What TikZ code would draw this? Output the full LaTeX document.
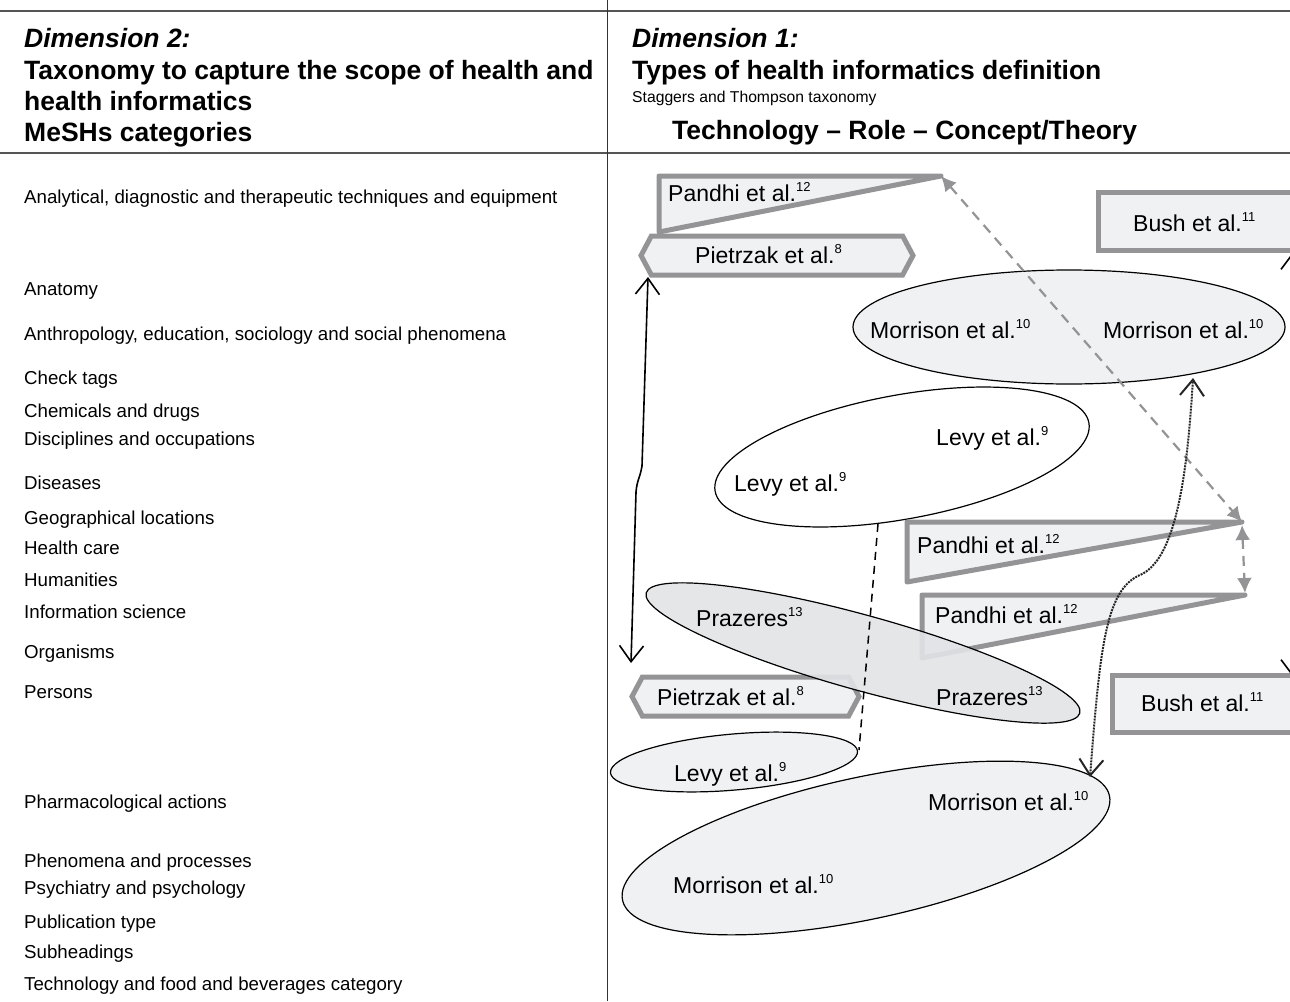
\documentclass[tikz,border=0pt]{standalone}
\usepackage{fontspec}
\setmainfont{Liberation Sans}
\usetikzlibrary{arrows.meta,positioning,shapes.geometric,shapes.symbols}
\definecolor{boxgray}{RGB}{148,148,150}
\definecolor{lightfill}{RGB}{240,241,243}
\definecolor{prazfill}{RGB}{226,227,230}
\definecolor{rulegray}{RGB}{85,85,85}
\newcommand{\refnum}[1]{\raisebox{0.42em}{\fontsize{13}{14}\selectfont #1}}
\tikzset{
  meshitem/.style={anchor=mid west, inner sep=0pt, yshift=-5pt, font=\fontsize{18.7}{22}\selectfont},
  headline/.style={anchor=mid west, inner sep=0pt, yshift=-7pt, font=\bfseries\fontsize{26.5}{30}\selectfont},
  dimline/.style={headline, font=\bfseries\itshape\fontsize{26.5}{30}\selectfont},
  authtext/.style={anchor=mid west, inner sep=0pt, yshift=-6pt, font=\fontsize{23}{26}\selectfont},
  hexbox/.style={signal, signal to=west and east, signal pointer angle=124, draw=boxgray, line width=5pt, fill=lightfill, inner sep=0pt},
  rectbox/.style={rectangle, draw=boxgray, line width=5pt, fill=lightfill, inner sep=0pt},
  wedge/.style={draw=boxgray, line width=5pt, fill=lightfill, line join=round},
  oval/.style={ellipse, draw=black, line width=1.2pt, fill=lightfill, inner sep=0pt},
  barbs/.style={line width=1.6pt, {Straight Barb[length=16pt,width=24pt]}-{Straight Barb[length=16pt,width=24pt]}},
  grayarrow/.style={draw=boxgray, line width=2.2pt, dash pattern=on 10pt off 7pt, {Latex[length=15pt,width=15pt]}-{Latex[length=15pt,width=15pt]}},
}

\begin{document}
\begin{tikzpicture}[x=1pt,y=-1pt]

\useasboundingbox (0,0) rectangle (1290,1001);
\clip (0,0) rectangle (1290,1001);

% table frame
\draw[rulegray, line width=2pt] (0,11) -- (1290,11);
\draw[rulegray, line width=2pt] (0,153) -- (1290,153);
\draw[black!80, line width=1pt] (607,0) -- (607,1001);

% headers
\node[dimline] (dimtwo) at (24,38) {Dimension 2:};
\node[headline] (taxa) at (24,70) {Taxonomy to capture the scope of health and};
\node[headline] (taxb) at (24,101) {health informatics};
\node[headline] (mesh) at (24,132) {MeSHs categories};
\node[dimline] (dimone) at (632,38) {Dimension 1:};
\node[headline] (types) at (632,70) {Types of health informatics definition};
\node[anchor=mid west, inner sep=0pt, yshift=-4pt, font=\fontsize{15.7}{18}\selectfont] (stag) at (632,96) {Staggers and Thompson taxonomy};
\node[headline] (trc) at (672,130) {Technology -- Role -- Concept/Theory};

% MeSH categories
\node[meshitem] (c1) at (24,196) {Analytical, diagnostic and therapeutic techniques and equipment};
\node[meshitem] (c2) at (24,288) {Anatomy};
\node[meshitem] (c3) at (24,333) {Anthropology, education, sociology and social phenomena};
\node[meshitem] (c4) at (24,377) {Check tags};
\node[meshitem] (c5) at (24,410) {Chemicals and drugs};
\node[meshitem] (c6) at (24,438) {Disciplines and occupations};
\node[meshitem] (c7) at (24,482) {Diseases};
\node[meshitem] (c8) at (24,517) {Geographical locations};
\node[meshitem] (c9) at (24,547) {Health care};
\node[meshitem] (c10) at (24,579) {Humanities};
\node[meshitem] (c11) at (24,611) {Information science};
\node[meshitem] (c12) at (24,651) {Organisms};
\node[meshitem] (c13) at (24,691) {Persons};
\node[meshitem] (c14) at (24,801) {Pharmacological actions};
\node[meshitem] (c15) at (24,860) {Phenomena and processes};
\node[meshitem] (c16) at (24,887) {Psychiatry and psychology};
\node[meshitem] (c17) at (24,921) {Publication type};
\node[meshitem] (c18) at (24,951) {Subheadings};
\node[meshitem] (c19) at (24,983) {Technology and food and beverages category};

% top row
\coordinate (pandA) at (659,176);
\coordinate (pandAtip) at (941,176);
\draw[wedge] (pandA) -- (pandAtip) -- (659,232) -- cycle;
\node[authtext] (tpandA) at (668,193) {Pandhi et al.\refnum{12}};

\node[hexbox, minimum width=272pt, minimum height=39pt] (pietTop) at (777,255.5) {};
\node[authtext] (tpietTop) at (695,255) {Pietrzak et al.\refnum{8}};

\node[rectbox, minimum width=232pt, minimum height=58pt] (bushTop) at (1214,221) {};
\node[authtext] (tbushTop) at (1133,223) {Bush et al.\refnum{11}};

\node[oval, minimum width=432pt, minimum height=114pt] (morrTop) at (1069,327) {};
\node[authtext] (tmorrA) at (870,330) {Morrison et al.\refnum{10}};
\node[authtext] (tmorrB) at (1103,330) {Morrison et al.\refnum{10}};

\node[oval, fill=white, minimum width=380pt, minimum height=124pt, rotate=10.4] (levyMid) at (902,457) {};
\node[authtext] (tlevyA) at (734,483) {Levy et al.\refnum{9}};
\node[authtext] (tlevyB) at (936,437) {Levy et al.\refnum{9}};

% middle row
\coordinate (pandBtip) at (1242,522);
\draw[wedge] (907,522) -- (pandBtip) -- (907,582) -- cycle;
\node[authtext] (tpandB) at (917,545) {Pandhi et al.\refnum{12}};

\coordinate (pandCtip) at (1245,595);
\draw[wedge] (922,595) -- (pandCtip) -- (922,658) -- cycle;
\node[authtext] (tpandC) at (935,615) {Pandhi et al.\refnum{12}};

\node[hexbox, minimum width=227pt, minimum height=39pt] (pietLow) at (745.5,696.5) {};
\node[authtext] (tpietLow) at (657,697) {Pietrzak et al.\refnum{8}};

\node[oval, fill=prazfill, fill opacity=0.9, minimum width=450pt, minimum height=75pt, rotate=-15.5] (praz) at (863,653) {};
\node[authtext] (tprazA) at (696,618) {Prazeres\refnum{13}};
\node[authtext] (tprazB) at (936,697) {Prazeres\refnum{13}};

\node[rectbox, minimum width=218pt, minimum height=57pt] (bushLow) at (1221,703.5) {};
\node[authtext] (tbushLow) at (1141,703) {Bush et al.\refnum{11}};

% bottom row
\node[oval, minimum width=248pt, minimum height=56pt, rotate=5] (levyLow) at (734,762) {};
\node[authtext] (tlevyC) at (674,773) {Levy et al.\refnum{9}};

\node[oval, minimum width=498pt, minimum height=142pt, rotate=12.1] (morrLow) at (866,848) {};
\node[authtext] (tmorrC) at (928,802) {Morrison et al.\refnum{10}};
\node[authtext] (tmorrD) at (673,885) {Morrison et al.\refnum{10}};

% links
\coordinate (pietTopFoot) at (648,277);
\coordinate (pietLowHead) at (631,663);
\draw[barbs] (pietTopFoot) -- (642,466) .. controls (640,478) and (637,480) .. (636,492) -- (pietLowHead);

\coordinate (levyMidFoot) at (878,524);
\coordinate (levyLowEnd) at (859,750);
\draw[black, line width=1.5pt, dash pattern=on 8pt off 6pt] (levyMidFoot) -- (levyLowEnd);

\draw[grayarrow] (pandAtip) -- (pandBtip);
\draw[grayarrow] ([yshift=-3pt]pandBtip) -- ([yshift=2pt]pandCtip);

\coordinate (morrTopFoot) at (1193,378);
\coordinate (morrLowHead) at (1090,777);
\draw[barbs, black!85, line width=2pt, densely dotted] (morrLowHead) .. controls (1100,650) and (1105,590) .. (1140,575) .. controls (1175,560) and (1187,480) .. (morrTopFoot);

\coordinate (bushTopFoot) at (1293,252);
\coordinate (bushLowHead) at (1293,677);
\draw[barbs] (bushTopFoot) -- (bushLowHead);

\end{tikzpicture}
\end{document}
